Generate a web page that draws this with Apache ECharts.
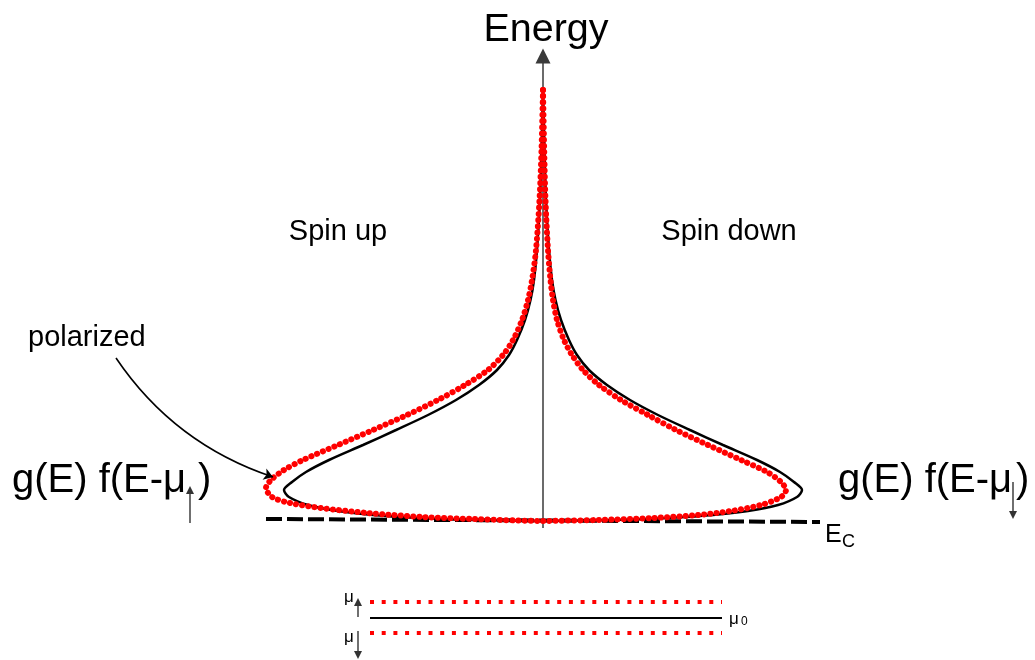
<!DOCTYPE html>
<html>
<head>
<meta charset="utf-8">
<script src="https://cdn.jsdelivr.net/npm/echarts@6/dist/echarts.min.js"></script>
<style>
  html, body { margin: 0; padding: 0; background: #fff; }
  #chart { width: 1035px; height: 660px; }
</style>
</head>
<body>
<div id="chart"></div>
<script>
// Occupied density of states g(E)·f(E-μ), as [density, energy] pairs (arbitrary units).
// Each profile runs from the top of the band down the outer branch to the peak,
// then back along the lower branch to the band edge.
const unpolarized = [
  [0, 4.31], [0.015, 3.71], [0.03, 3.21], [0.06, 2.71], [0.09, 2.41], [0.125, 2.21],
  [0.18, 2.01], [0.26, 1.81], [0.34, 1.66], [0.46, 1.51], [0.64, 1.36], [0.87, 1.21],
  [1.15, 1.06], [1.47, 0.91], [1.80, 0.76], [2.14, 0.61], [2.37, 0.49], [2.51, 0.39],
  [2.59, 0.31], [2.54, 0.24], [2.35, 0.16], [2.05, 0.10], [1.70, 0.06], [1.25, 0.03],
  [0.70, 0.01], [0, 0]
];
const spinUpPolarized = [
  [0, 4.31], [0.015, 3.71], [0.035, 3.21], [0.07, 2.71], [0.11, 2.41], [0.15, 2.21],
  [0.21, 2.01], [0.30, 1.81], [0.40, 1.66], [0.55, 1.51], [0.78, 1.36], [1.05, 1.21],
  [1.36, 1.06], [1.70, 0.91], [2.05, 0.76], [2.40, 0.61], [2.59, 0.51], [2.72, 0.41],
  [2.77, 0.33], [2.71, 0.24], [2.53, 0.18], [2.22, 0.13], [1.75, 0.08], [1.20, 0.04],
  [0.70, 0.02], [0.25, 0.005], [0, 0]
];
const spinDownPolarized = [
  [0, 4.31], [0.012, 3.71], [0.025, 3.21], [0.05, 2.71], [0.075, 2.41], [0.10, 2.21],
  [0.14, 2.01], [0.21, 1.81], [0.29, 1.66], [0.40, 1.51], [0.56, 1.36], [0.78, 1.21],
  [1.05, 1.06], [1.33, 0.91], [1.65, 0.76], [1.98, 0.61], [2.24, 0.49], [2.38, 0.39],
  [2.43, 0.31], [2.38, 0.24], [2.18, 0.16], [1.88, 0.10], [1.55, 0.06], [1.10, 0.03],
  [0.55, 0.01], [0, 0]
];

// Band edge E_C and chemical potentials (energy levels)
const bandEdgeSpan = [-2.77, 2.77];
const bandEdgeLevel = [0.02, -0.01];
const chemicalPotentials = { up: -0.81, zero: -0.97, down: -1.12 };
const potentialSpan = [-1.73, 1.79];

// Energy axis extent and pointer for the polarized curve
const energyAxisSpan = [-0.07, 4.65];
const pointerFrom = [-4.27, 1.63];
const pointerTo = [-2.70, 0.44];

const FONT = '"Liberation Sans", Arial, Helvetica, sans-serif';
const RED = '#ff0000';

const mirror = pts => pts.map(([d, e]) => [-d, e]);

const chart = echarts.init(document.getElementById('chart'), null, { renderer: 'canvas' });

function curve(name, data, color, dotted, z) {
  return {
    name, type: 'line', data, z,
    showSymbol: false, symbol: 'none', smooth: 0.3, silent: true, animation: false,
    lineStyle: dotted
      ? { color, width: 6, type: [0.1, 6.1], cap: 'round' }
      : { color, width: 2.5 }
  };
}

function level(name, y, color, width, type, z) {
  return {
    name, type: 'line', z, showSymbol: false, symbol: 'none', silent: true, animation: false,
    data: [[potentialSpan[0], y], [potentialSpan[1], y]],
    lineStyle: { color, width, type, cap: 'butt' }
  };
}

function textEl(text, x, y, size, align) {
  return {
    type: 'text', x, y, silent: true,
    style: { text, font: size + 'px ' + FONT, fill: '#000', textAlign: align || 'left', textVerticalAlign: 'middle' }
  };
}

function arrowEl(x, y1, y2, color) {
  // thin vertical arrow, head at y2
  const dir = y2 < y1 ? -1 : 1;
  return {
    type: 'group', silent: true,
    children: [
      { type: 'line', shape: { x1: x, y1: y1, x2: x, y2: y2 - dir * 5 }, style: { stroke: color, lineWidth: 1.4 } },
      { type: 'polygon', shape: { points: [[x - 4, y2 - dir * 8], [x + 4, y2 - dir * 8], [x, y2]] }, style: { fill: color } }
    ]
  };
}

chart.setOption({
  backgroundColor: '#fff',
  animation: false,
  grid: { left: 0, right: 0, top: 0, bottom: 0 },
  xAxis: { type: 'value', min: -5.43, max: 4.92, show: false },
  yAxis: { type: 'value', min: -1.39, max: 5.21, show: false },
  series: [
    {
      name: 'Energy axis', type: 'lines', coordinateSystem: 'cartesian2d', z: 1, silent: true,
      data: [{ coords: [[0, energyAxisSpan[0]], [0, energyAxisSpan[1]]] }],
      symbol: ['none', 'triangle'], symbolSize: 15,
      lineStyle: { color: '#3a3a3a', width: 1.5, opacity: 1 }
    },
    {
      name: 'E_C', type: 'line', z: 2, showSymbol: false, symbol: 'none', silent: true,
      data: [[bandEdgeSpan[0], bandEdgeLevel[0]], [bandEdgeSpan[1], bandEdgeLevel[1]]],
      lineStyle: { color: '#000', width: 4, type: [16, 5], cap: 'butt' }
    },
    curve('Unpolarized spin up', mirror(unpolarized), '#000', false, 3),
    curve('Unpolarized spin down', unpolarized, '#000', false, 3),
    curve('Polarized spin up', mirror(spinUpPolarized), RED, true, 4),
    curve('Polarized spin down', spinDownPolarized, RED, true, 4),
    {
      name: 'polarized pointer', type: 'lines', coordinateSystem: 'cartesian2d', z: 5, silent: true,
      data: [{ coords: [pointerFrom, pointerTo] }],
      symbol: ['none', 'arrow'], symbolSize: 9,
      lineStyle: { color: '#000', width: 1.6, curveness: -0.17, opacity: 1 }
    },
    level('μ↑', chemicalPotentials.up, RED, 4, [4, 7.7], 3),
    level('μ0', chemicalPotentials.zero, '#000', 2, 'solid', 3),
    level('μ↓', chemicalPotentials.down, RED, 4, [4, 7.7], 3)
  ],
  graphic: [
    textEl('Energy', 546, 30, 39.5, 'center'),
    textEl('Spin up', 338, 232, 29, 'center'),
    textEl('Spin down', 729, 232, 29, 'center'),
    textEl('polarized', 28, 338, 29, 'left'),
    textEl('g(E) f(E-μ', 12, 481, 40, 'left'),
    textEl(')', 198, 481, 40, 'left'),
    arrowEl(190, 523, 486, '#333'),
    textEl('g(E) f(E-μ', 838, 481, 40, 'left'),
    textEl(')', 1016, 481, 40, 'left'),
    arrowEl(1013, 482, 519, '#333'),
    textEl('E', 825, 535, 25, 'left'),
    textEl('C', 842, 542, 18, 'left'),
    textEl('μ', 344, 597, 17, 'left'),
    arrowEl(358, 617, 598, '#333'),
    textEl('μ', 344, 637, 17, 'left'),
    arrowEl(358, 631, 659, '#333'),
    textEl('μ', 729, 619, 17, 'left'),
    textEl('0', 741, 622, 12, 'left')
  ]
});
</script>
</body>
</html>
